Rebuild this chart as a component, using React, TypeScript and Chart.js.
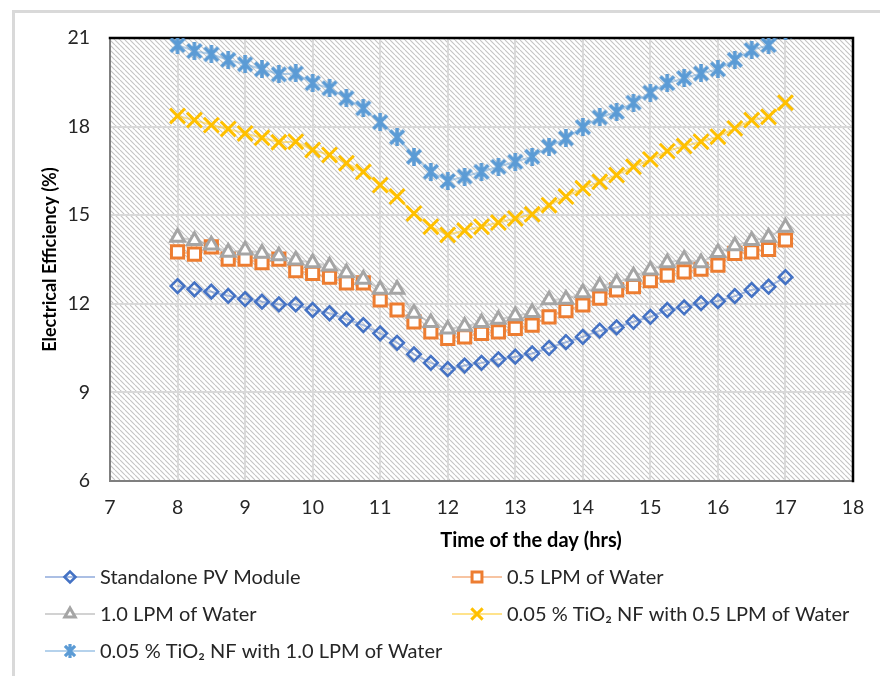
import React, { useEffect, useRef } from "react";
import { Chart, registerables, PointElement } from "chart.js";

Chart.register(...registerables);

// ---- data ----
const hours = [8, 8.25, 8.5, 8.75, 9, 9.25, 9.5, 9.75, 10, 10.25, 10.5, 10.75, 11, 11.25, 11.5, 11.75, 12, 12.25, 12.5, 12.75, 13, 13.25, 13.5, 13.75, 14, 14.25, 14.5, 14.75, 15, 15.25, 15.5, 15.75, 16, 16.25, 16.5, 16.75, 17];

const standalonePV = [12.6, 12.49, 12.41, 12.27, 12.16, 12.07, 11.98, 11.98, 11.79, 11.68, 11.48, 11.28, 11.0, 10.68, 10.29, 10.0, 9.79, 9.91, 10.0, 10.12, 10.21, 10.32, 10.51, 10.7, 10.88, 11.09, 11.2, 11.39, 11.56, 11.79, 11.88, 12.02, 12.09, 12.26, 12.47, 12.58, 12.9];
const water05 = [13.76, 13.68, 13.93, 13.51, 13.51, 13.39, 13.51, 13.12, 13.03, 12.9, 12.71, 12.71, 12.13, 11.79, 11.39, 11.05, 10.83, 10.88, 11.0, 11.05, 11.17, 11.28, 11.56, 11.77, 11.96, 12.19, 12.47, 12.58, 12.78, 12.97, 13.08, 13.17, 13.31, 13.71, 13.76, 13.84, 14.16];
const water10 = [14.25, 14.14, 13.99, 13.74, 13.82, 13.71, 13.62, 13.48, 13.39, 13.28, 13.05, 12.83, 12.49, 12.49, 11.68, 11.36, 11.14, 11.24, 11.36, 11.47, 11.59, 11.7, 12.13, 12.15, 12.37, 12.6, 12.71, 12.94, 13.14, 13.39, 13.51, 13.39, 13.73, 13.96, 14.14, 14.25, 14.59];
const tio2Water05 = [18.36, 18.22, 18.05, 17.92, 17.77, 17.62, 17.47, 17.49, 17.21, 17.04, 16.76, 16.47, 16.02, 15.63, 15.06, 14.61, 14.33, 14.48, 14.61, 14.75, 14.89, 15.03, 15.34, 15.63, 15.91, 16.13, 16.36, 16.64, 16.89, 17.17, 17.34, 17.49, 17.66, 17.94, 18.22, 18.33, 18.81];
const tio2Water10 = [20.76, 20.56, 20.45, 20.26, 20.11, 19.94, 19.77, 19.8, 19.47, 19.3, 18.96, 18.62, 18.15, 17.64, 16.98, 16.47, 16.16, 16.31, 16.47, 16.64, 16.81, 16.98, 17.32, 17.6, 17.98, 18.31, 18.5, 18.81, 19.15, 19.47, 19.64, 19.8, 19.94, 20.26, 20.59, 20.76, 21.25];

const seriesNames = [
  "Standalone PV Module",
  "0.5 LPM of Water",
  "1.0 LPM of Water",
  "0.05 % TiO₂ NF with 0.5 LPM of Water",
  "0.05 % TiO₂ NF with 1.0 LPM of Water",
];

const xMin = 7, xMax = 18, xStep = 1;
const yMin = 6, yMax = 21, yStep = 3;
const xTitle = "Time of the day (hrs)";
const yTitle = "Electrical Efficiency (%)";

const FONT = "Lato, 'Open Sans', 'DejaVu Sans', sans-serif";

function makeStar(size: number, lw: number, color: string) {
  const c = document.createElement("canvas");
  c.width = size; c.height = size;
  const g = c.getContext("2d")!;
  g.strokeStyle = color; g.lineWidth = lw; g.lineCap = "butt";
  const m = lw * 0.6;
  g.beginPath();
  g.moveTo(m, m); g.lineTo(size - m, size - m);
  g.moveTo(size - m, m); g.lineTo(m, size - m);
  g.moveTo(size / 2, 0); g.lineTo(size / 2, size);
  g.stroke();
  return c;
}

function makeHatch() {
  const c = document.createElement("canvas");
  const s = 5;
  c.width = s; c.height = s;
  const g = c.getContext("2d")!;
  g.fillStyle = "#ffffff"; g.fillRect(0, 0, s, s);
  g.strokeStyle = "#c4c4c4"; g.lineWidth = 1.1;
  g.beginPath();
  for (let k = -1; k <= 1; k++) { g.moveTo(k * s, 0); g.lineTo(k * s + s, s); }
  g.stroke();
  return c;
}

export default function App() {
  const ref = useRef<HTMLCanvasElement | null>(null);

  useEffect(() => {
    document.body.style.margin = "0";
    const canvas = ref.current!;
    const star = makeStar(18, 3.6, "#5B9BD5");
    const starSmall = makeStar(14, 3.2, "#5B9BD5");
    const hatchCanvas = makeHatch();

    const styles = [
      { color: "#4472C4", line: "rgba(68,114,196,0.45)", style: "rectRot", radius: 6.8, bw: 2.6, bg: "rgba(0,0,0,0)", lr: 5.5 },
      { color: "#ED7D31", line: "rgba(237,125,49,0.45)", style: "rect", radius: 8.6, bw: 3, bg: "#ffffff", lr: 7 },
      { color: "#A5A5A5", line: "rgba(165,165,165,0.5)", style: "triangle", radius: 7.8, bw: 3, bg: "#ffffff", lr: 6 },
      { color: "#FFC000", line: "rgba(255,192,0,0.45)", style: "crossRot", radius: 10.5, bw: 3, bg: "#FFC000", lr: 8 },
      { color: "#5B9BD5", line: "rgba(91,155,213,0.45)", style: star as any, radius: 8, bw: 3, bg: "#5B9BD5", lr: 6 },
    ];
    const values = [standalonePV, water05, water10, tio2Water05, tio2Water10];

    const datasets = values.map((arr, i) => ({
      label: seriesNames[i],
      data: hours.map((h, j) => ({ x: h, y: arr[j] })),
      borderColor: styles[i].line,
      borderWidth: 2,
      pointStyle: styles[i].style,
      pointRadius: styles[i].radius,
      pointBorderColor: styles[i].color,
      pointBackgroundColor: styles[i].bg,
      pointBorderWidth: styles[i].bw,
      fill: false,
      tension: 0,
      order: 5 - i,
      clip: 0,
    }));

    const plugin = {
      id: "excelDecor",
      beforeDraw(chart: any) {
        const { ctx, chartArea: a, width, height } = chart;
        ctx.save();
        ctx.fillStyle = "#ffffff";
        ctx.fillRect(0, 0, width, height);
        ctx.fillStyle = ctx.createPattern(hatchCanvas, "repeat");
        ctx.fillRect(a.left, a.top, a.right - a.left, a.bottom - a.top);
        // outer frame (left & top)
        ctx.fillStyle = "#d9d9d9";
        ctx.fillRect(12, 10, 3, height - 10);
        ctx.fillRect(12, 10, width - 12, 3);
        ctx.restore();
      },
      beforeDatasetsDraw(chart: any) {
        const { ctx, chartArea: a } = chart;
        ctx.save();
        ctx.lineCap = "square";
        ctx.strokeStyle = "#7f7f7f";
        ctx.lineWidth = 2;
        ctx.beginPath();
        ctx.moveTo(a.left, a.top); ctx.lineTo(a.left, a.bottom); ctx.lineTo(a.right, a.bottom);
        ctx.stroke();
        ctx.strokeStyle = "#000000";
        ctx.lineWidth = 2.5;
        ctx.beginPath();
        ctx.moveTo(a.left, a.top); ctx.lineTo(a.right, a.top); ctx.lineTo(a.right, a.bottom);
        ctx.stroke();
        ctx.restore();
      },
      afterDraw(chart: any) {
        const { ctx } = chart;
        ctx.save();
        // x axis title
        ctx.fillStyle = "#000";
        ctx.font = `bold 20px ${FONT}`;
        ctx.textAlign = "center";
        ctx.textBaseline = "middle";
        ctx.fillText(xTitle, 531, 541);

        const cols = [45, 452];
        const rows = [577, 614, 651];
        seriesNames.forEach((name, i) => {
          const col = cols[i % 2];
          const y = rows[Math.floor(i / 2)];
          const st = styles[i];
          ctx.strokeStyle = st.line;
          ctx.lineWidth = 2;
          ctx.beginPath();
          ctx.moveTo(col, y); ctx.lineTo(col + 50, y);
          ctx.stroke();
          const p = new (PointElement as any)({
            x: col + 25,
            y,
            options: {
              pointStyle: i === 4 ? starSmall : st.style,
              rotation: 0,
              radius: st.lr,
              borderWidth: st.bw,
              borderColor: st.color,
              backgroundColor: st.bg,
            },
          });
          p.draw(ctx);
          ctx.fillStyle = "#262626";
          ctx.font = `20px ${FONT}`;
          ctx.textBaseline = "middle";
          ctx.textAlign = "left";
          ctx.fillText(name, col + 55, y + 1);
        });
        ctx.restore();
      },
    };

    const chart = new Chart(canvas, {
      type: "line",
      data: { datasets: datasets as any },
      options: {
        animation: false,
        responsive: false,
        devicePixelRatio: 1,
        layout: { padding: { top: 38, right: 27, left: 0, bottom: 115 } },
        plugins: { legend: { display: false }, tooltip: { enabled: false } },
        scales: {
          x: {
            type: "linear",
            min: xMin,
            max: xMax,
            afterFit: (s: any) => { s.height = 80; },
            ticks: { stepSize: xStep, padding: 15, color: "#262626", font: { family: FONT, size: 19.5 } },
            grid: { color: "#d9d9d9", lineWidth: 2, drawTicks: false },
            border: { display: false },
            title: { display: false },
          },
          y: {
            type: "linear",
            min: yMin,
            max: yMax,
            afterFit: (s: any) => { s.width = 110; },
            ticks: { stepSize: yStep, padding: 20, color: "#262626", font: { family: FONT, size: 19.5 } },
            grid: { color: "#d9d9d9", lineWidth: 2, drawTicks: false },
            border: { display: false },
            title: { display: true, text: yTitle, color: "#000", font: { family: FONT, size: 18, weight: "bold" }, padding: { top: 39, bottom: 0 } },
          },
        },
      },
      plugins: [plugin],
    });
    return () => chart.destroy();
  }, []);

  return (
    <div style={{ width: 880, height: 676 }}>
      <canvas ref={ref} width={880} height={676} style={{ display: "block", width: 880, height: 676 }} />
    </div>
  );
}
